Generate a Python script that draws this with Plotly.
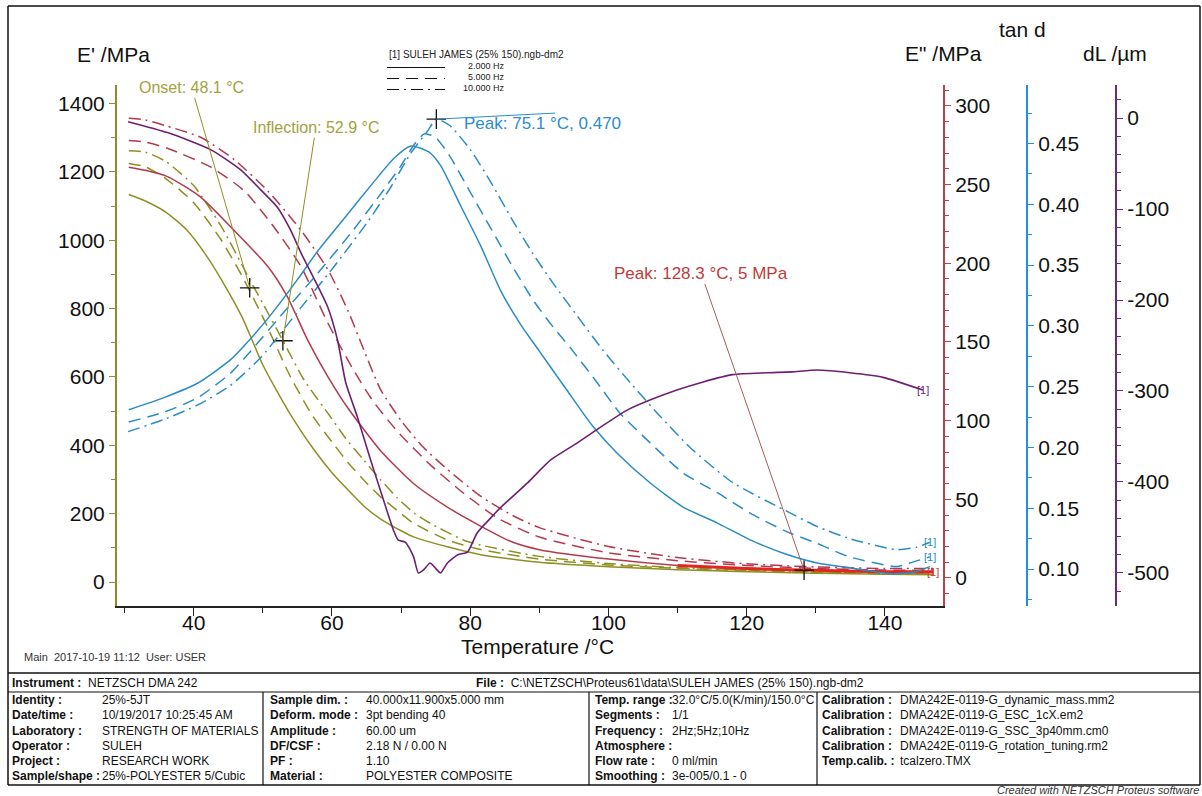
import plotly.graph_objects as go

# ---------------- data ----------------
# E' (storage modulus, MPa) - left axis
T_E2 = [30.6, 33, 36, 39, 42, 45, 47, 48.2, 50, 52, 54, 57.3, 60, 62.3, 65, 67, 70, 71.8, 76.7, 81.5, 90, 100, 110, 120, 130, 140, 147]
E_2 = [1134, 1115, 1082, 1030, 950, 850, 775, 720, 635, 560, 490, 390, 320, 270, 215, 185, 150, 132, 103, 80, 58, 45, 36, 30, 26, 23, 21]
T_E5 = [30.6, 33, 36, 40, 44, 47, 50, 51.6, 54, 57.3, 60, 62.3, 65, 67, 70, 71.8, 76.7, 81.5, 90, 100, 110, 120, 130, 140, 147]
E_5 = [1225, 1215, 1180, 1110, 1000, 895, 775, 705, 600, 483, 410, 350, 290, 250, 200, 172, 123, 95, 67, 50, 40, 33, 28, 25, 23]
T_E10 = [30.6, 33, 36, 40, 44, 48.1, 50, 52.9, 56, 59.8, 62, 64.6, 67, 69.5, 72, 74.2, 79, 81.5, 90, 100, 110, 120, 130, 140, 147]
E_10 = [1262, 1258, 1230, 1160, 1040, 885, 815, 706, 590, 483, 420, 357, 300, 245, 200, 172, 123, 108, 75, 54, 42, 35, 30, 27, 25]

# E'' (loss modulus, MPa) - red axis
T_V2 = [30.6, 33, 36.2, 41, 45.8, 50.7, 53.5, 56.5, 59.4, 62.3, 67, 71.8, 76.7, 81.5, 86, 90, 100, 110, 120, 128.3, 140, 147]
V_2 = [261, 259, 255, 242, 221, 198, 179, 151, 128, 108, 81, 60, 45, 33, 23, 18, 12, 8, 6, 5, 4, 4]
T_V5 = [30.6, 33, 36.2, 42.5, 47.3, 51.6, 55.5, 59.4, 63, 66, 69.5, 74.2, 79, 84, 90, 100, 110, 120, 130, 140, 147]
V_5 = [278, 277, 273, 261, 246, 223, 198, 162, 133, 112, 93, 72, 54, 38, 26, 16, 11, 8, 6, 5, 5]
T_V10 = [30.6, 33, 36.2, 41, 45.8, 50.7, 55.5, 59.4, 62.3, 64.6, 67, 70, 73, 76.7, 81.5, 86, 90, 100, 110, 120, 130, 140, 147]
V_10 = [292, 291, 287, 280, 266, 246, 221, 196, 170, 145, 120, 100, 84, 69, 52, 40, 32, 20, 13, 9, 7, 6, 6]

# tan d - blue axis
T_D2 = [30.6, 35.7, 40.6, 45.3, 48, 51, 55, 58, 62, 66, 69, 71.4, 74, 75.7, 78.6, 81.5, 84.4, 87.3, 89.9, 94, 97.8, 101.3, 106, 110.8, 115.7, 120.5, 125.3, 130.2, 134.9, 141.2, 144.6, 146.5]
D_2 = [0.231, 0.241, 0.253, 0.272, 0.288, 0.308, 0.338, 0.362, 0.390, 0.418, 0.438, 0.448, 0.443, 0.432, 0.399, 0.366, 0.329, 0.301, 0.280, 0.247, 0.217, 0.195, 0.171, 0.151, 0.138, 0.124, 0.113, 0.105, 0.101, 0.096, 0.098, 0.102]
T_D5 = [30.6, 35.7, 40.6, 45.3, 48.2, 53.0, 57.9, 62.7, 67.5, 69.9, 72, 73.4, 75, 77, 80, 83, 86, 89, 92, 94.9, 98.4, 101.7, 106, 110.8, 115.7, 120.5, 125.3, 130.2, 134.9, 141.7, 143.6, 146.5]
D_5 = [0.221, 0.229, 0.241, 0.261, 0.279, 0.311, 0.343, 0.376, 0.412, 0.431, 0.450, 0.458, 0.455, 0.440, 0.410, 0.380, 0.350, 0.322, 0.299, 0.279, 0.253, 0.228, 0.204, 0.179, 0.163, 0.146, 0.132, 0.121, 0.110, 0.102, 0.105, 0.110]
T_D10 = [30.5, 35.7, 40.6, 45.3, 49.7, 55.5, 60.2, 65.1, 68.5, 71.4, 73.8, 75.1, 77, 80, 83, 86, 89, 92, 95.5, 99.2, 103.2, 107.1, 111.8, 118, 125.3, 130.2, 134.9, 141.7, 144.6, 146.5]
D_10 = [0.213, 0.223, 0.235, 0.251, 0.274, 0.315, 0.348, 0.385, 0.414, 0.442, 0.460, 0.470, 0.465, 0.445, 0.418, 0.388, 0.360, 0.335, 0.308, 0.280, 0.253, 0.228, 0.200, 0.171, 0.149, 0.135, 0.125, 0.116, 0.118, 0.122]

# dL (um) - purple axis
T_L = [30.5, 36.2, 42.5, 46.8, 49.7, 52.1, 54.0, 55.5, 57.3, 59.4, 60.8, 62.0, 63.7, 65.6, 67.0, 68.9, 69.6, 70.6, 71.8, 72.5, 73.2, 74.2, 75.0, 75.7, 76.7, 78.2, 79.6, 81.0, 82.9, 84.4, 88.3, 91.6, 95.5, 98.8, 102.7, 106.0, 109.9, 113.7, 118.0, 122.9, 126.5, 130.2, 134.9, 139.7, 145.5]
L = [-4, -16, -35, -57, -79, -98, -123, -148, -175, -208, -244, -291, -329, -376, -409, -453, -464, -466, -482, -500, -497, -489, -495, -500, -489, -480, -477, -456, -440, -428, -401, -376, -357, -340, -321, -310, -299, -290, -282, -280, -279, -277, -280, -285, -299]

# evaluation results
ONSET_T, ONSET_E = 48.1, 861
INFL_T, INFL_E = 52.9, 706
TPEAK_T, TPEAK_V = 75.1, 0.470
EPEAK_T, EPEAK_V = 128.3, 5

X_TICKS = [40, 60, 80, 100, 120, 140]
DL_TICKS = [-500, -400, -300, -200, -100, 0]

FREQ_LABELS = ["2.000 Hz", "5.000 Hz", "10.000 Hz"]
LEGEND_TITLE = "[1] SULEH JAMES (25% 150).ngb-dm2"

C1_LAB = ["Identity :", "Date/time :", "Laboratory :", "Operator :", "Project :", "Sample/shape :"]
C1_VAL = ["25%-5JT", "10/19/2017 10:25:45 AM", "STRENGTH OF MATERIALS", "SULEH", "RESEARCH WORK", "25%-POLYESTER 5/Cubic"]
C2_LAB = ["Sample dim. :", "Deform. mode :", "Amplitude :", "DF/CSF :", "PF :", "Material :"]
C2_VAL = ["40.000x11.900x5.000 mm", "3pt bending 40", "60.00 um", "2.18 N / 0.00 N", "1.10", "POLYESTER COMPOSITE"]
C3_LAB = ["Temp. range :", "Segments :", "Frequency :", "Atmosphere :", "Flow rate :", "Smoothing :"]
C3_VAL = ["32.0°C/5.0(K/min)/150.0°C", "1/1", "2Hz;5Hz;10Hz", "", "0 ml/min", "3e-005/0.1 - 0"]
C4_LAB = ["Calibration :", "Calibration :", "Calibration :", "Calibration :", "Temp.calib. :", ""]
C4_VAL = ["DMA242E-0119-G_dynamic_mass.mm2", "DMA242E-0119-G_ESC_1cX.em2", "DMA242E-0119-G_SSC_3p40mm.cm0",
          "DMA242E-0119-G_rotation_tuning.rm2", "tcalzero.TMX", ""]

# ---------------- style ----------------
FONT = "Liberation Sans, Arial, sans-serif"
OLIVE = "#8f8f24"
OLIVE_T = "#a2a23c"
RED = "#b33a4e"
BLUE = "#2b8cc4"
PURPLE = "#6c2170"
AX_OLIVE = "#8c8c2c"
AX_RED = "#b0474f"
AX_BLUE = "#1f8fe8"
AX_PURPLE = "#6a2a7a"
DASH = "12px,7px"
DASHDOT = "12px,5px,2px,5px"
STYLES = ["solid", DASH, DASHDOT]

W, H = 1202, 796
ML, MR, MT, MB = 117, 86, 85, 190
PW = W - ML - MR
PH = H - MT - MB


def px(x):
    return (x - ML) / PW


def py(y):
    return (H - MB - y) / PH


fig = go.Figure()

def add_line(x, y, ax, color, dash, width=1.5):
    fig.add_trace(go.Scatter(x=x, y=y, yaxis=ax, mode="lines", line=dict(color=color, width=width, dash=dash, shape="spline", smoothing=0.6), hoverinfo="skip"))

for (tx, vy), d in zip([(T_E2, E_2), (T_E5, E_5), (T_E10, E_10)], STYLES):
    add_line(tx, vy, "y", OLIVE, d)
for (tx, vy), d in zip([(T_V2, V_2), (T_V5, V_5), (T_V10, V_10)], STYLES):
    add_line(tx, vy, "y2", RED, d)
# noisy bright tail of E''
tail = [(t, v) for t, v in zip(T_V2, V_2) if t >= 110]
add_line([a for a, _ in tail], [b for _, b in tail], "y2", "#e1261f", "solid", width=3)
for (tx, vy), d in zip([(T_D2, D_2), (T_D5, D_5), (T_D10, D_10)], STYLES):
    add_line(tx, vy, "y3", BLUE, d)
add_line(T_L, L, "y4", PURPLE, "solid", width=1.6)

# evaluation crosses
for (tx, vy, ax) in [(ONSET_T, ONSET_E, "y"), (INFL_T, INFL_E, "y"), (TPEAK_T, TPEAK_V, "y3"), (EPEAK_T, EPEAK_V, "y2")]:
    fig.add_trace(go.Scatter(x=[tx], y=[vy], yaxis=ax, mode="markers",
                             marker=dict(symbol="cross-thin", size=14, line=dict(color="#111", width=1.3)),
                             hoverinfo="skip"))

tickfont = dict(family=FONT, size=21, color="#111")
common_y = dict(showgrid=False, zeroline=False, showline=True, linewidth=2, ticks="outside", ticklen=6,
                tickwidth=1, tickfont=tickfont)

fig.update_layout(
    width=W, height=H, margin=dict(l=ML, r=MR, t=MT, b=MB),
    paper_bgcolor="white", plot_bgcolor="white", showlegend=False,
    font=dict(family=FONT, color="#111"),
    xaxis=dict(domain=[0, px(943)], range=[28.9, 148.4], showgrid=False, zeroline=False, showline=True,
               linecolor="#222", linewidth=1.5, ticks="outside", ticklen=8, tickcolor="#222",
               tickvals=X_TICKS, tickfont=tickfont, ticklabelstandoff=-11,
               minor=dict(dtick=10, tick0=0, ticks="outside", ticklen=5, tickcolor="#222")),
    yaxis=dict(range=[-70.2, 1454.4], linecolor=AX_OLIVE, tickcolor=AX_OLIVE, dtick=200, tick0=0,
               minor=dict(dtick=100, ticks="outside", ticklen=4, tickcolor=AX_OLIVE), **common_y),
    yaxis2=dict(range=[-17.8, 313.2], overlaying="y", side="right", anchor="x", linecolor=AX_RED, tickcolor=AX_RED,
                dtick=50, tick0=0, minor=dict(dtick=10, ticks="outside", ticklen=4, tickcolor=AX_RED), **common_y),
    yaxis3=dict(range=[0.0696, 0.4981], overlaying="y", side="right", anchor="free", position=px(1027),
                linecolor=AX_BLUE, tickcolor=AX_BLUE, dtick=0.05, tick0=0, tickformat=".2f",
                minor=dict(dtick=0.025, ticks="outside", ticklen=4, tickcolor=AX_BLUE), **common_y),
    yaxis4=dict(range=[-536.3, 36.3], overlaying="y", side="right", anchor="free", position=px(1116),
                linecolor=AX_PURPLE, tickcolor=AX_PURPLE, tickvals=DL_TICKS, ticktext=[str(v) for v in DL_TICKS],
                minor=dict(dtick=20, ticks="outside", ticklen=4, tickcolor=AX_PURPLE), **common_y),
)

ann = []

def txt(x, y, s, size=12, color="#111", xanchor="left", yanchor="middle", **kw):
    ann.append(dict(x=px(x), y=py(y), xref="paper", yref="paper", text=s, showarrow=False,
                    xanchor=xanchor, yanchor=yanchor, font=dict(family=FONT, size=size, color=color), **kw))

# axis titles
txt(113, 55, "E' /MPa", size=21, xanchor="center")
txt(943, 53, 'E" /MPa', size=21, xanchor="center")
txt(1022, 30, "tan d", size=21, xanchor="center")
txt(1115, 53, "dL /µm", size=21, xanchor="center")
txt(537, 646, "Temperature /°C", size=21, xanchor="center")

# legend block
txt(387, 55, LEGEND_TITLE, size=10, color="#222")
for yy, lab in zip([66, 77, 88], FREQ_LABELS):
    txt(507, yy, lab, size=9, color="#222", xanchor="right")

shapes = []
for yy, d in zip([67.5, 78.5, 89.5], STYLES):
    shapes.append(dict(type="line", xref="paper", yref="paper", x0=px(387), x1=px(445), y0=py(yy), y1=py(yy),
                       line=dict(color="#111", width=1.2, dash=d)))

# evaluation annotations with leader lines
def arrow_ann(xv, yv, yref, s, color, lead_color, ax, ay, size=16):
    ann.append(dict(x=xv, y=yv, xref="x", yref=yref, text=s, showarrow=True, arrowhead=0, arrowwidth=1,
                    arrowcolor=lead_color, ax=ax, ay=ay, standoff=0, startstandoff=0,
                    font=dict(family=FONT, size=size, color=color)))

arrow_ann(ONSET_T, ONSET_E, "y", f"Onset: {ONSET_T} °C", OLIVE_T, OLIVE, -58, -200)
arrow_ann(INFL_T, INFL_E, "y", f"Inflection: {INFL_T} °C", OLIVE_T, OLIVE, 33, -213)
arrow_ann(EPEAK_T, EPEAK_V, "y2", f"Peak: {EPEAK_T} °C, {EPEAK_V} MPa", "#c23a3a", "#a0605a", -103, -297, size=17)
ann.append(dict(x=TPEAK_T, y=TPEAK_V, xref="x", yref="y3", text=f"Peak: {TPEAK_T} °C, {TPEAK_V:.3f}",
                showarrow=False, xanchor="left", yanchor="middle", xshift=26, yshift=-4,
                font=dict(family=FONT, size=17, color="#2d8ccc")))
shapes.append(dict(type="line", xref="x", yref="y3", x0=TPEAK_T, y0=TPEAK_V, x1=TPEAK_T + 17.2, y1=TPEAK_V + 0.005,
                   line=dict(color="#2d8ccc", width=1)))

# curve end labels
for tx, vy, yref, col in [(T_L, L, "y4", PURPLE), (T_D10, D_10, "y3", BLUE), (T_D5, D_5, "y3", BLUE), (T_V2, V_2, "y2", "#d23030")]:
    ann.append(dict(x=tx[-1], y=vy[-1], xref="x", yref=yref, text="[1]", showarrow=False, xanchor="center",
                    yanchor="middle", font=dict(family=FONT, size=11, color=col)))

# footer line
txt(22, 657, "Main\u00a0\u00a02017-10-19 11:12\u00a0\u00a0User: USER", size=11, color="#333")

# table
txt(10, 683, "<b>Instrument :</b>\u00a0 NETZSCH DMA 242", size=12)
txt(866, 683, "<b>File :</b>\u00a0 C:\\NETZSCH\\Proteus61\\data\\SULEH JAMES (25% 150).ngb-dm2", size=12, xanchor="right")
ROWS_Y = [700, 715.2, 730.5, 745.8, 761, 776.3]
for labs, vals, xl, xv in [(C1_LAB, C1_VAL, 10, 100), (C2_LAB, C2_VAL, 268, 364), (C3_LAB, C3_VAL, 593, 670), (C4_LAB, C4_VAL, 820, 898)]:
    for yy, lb, vv in zip(ROWS_Y, labs, vals):
        if lb:
            txt(xl, yy, f"<b>{lb}</b>", size=12)
        if vv:
            txt(xv, yy, vv, size=12)
txt(1201, 790, "<i>Created with NETZSCH Proteus software</i>", size=11, color="#333", xanchor="right")

# frame and table lines
def hline(y, x0=8, x1=1200, w=1.5):
    shapes.append(dict(type="line", xref="paper", yref="paper", x0=px(x0), x1=px(x1), y0=py(y), y1=py(y),
                       line=dict(color="#111", width=w)))

def vline(x, y0, y1, w=1.2):
    shapes.append(dict(type="line", xref="paper", yref="paper", x0=px(x), x1=px(x), y0=py(y0), y1=py(y1),
                       line=dict(color="#111", width=w)))

hline(6)
hline(673)
hline(692, w=1.2)
hline(785)
vline(8, 6, 785, w=1.5)
vline(1200, 6, 785, w=1.5)
for xs in [263, 589, 817]:
    vline(xs, 692, 785)

fig.update_layout(annotations=ann, shapes=shapes)
fig.write_html("out.html")
